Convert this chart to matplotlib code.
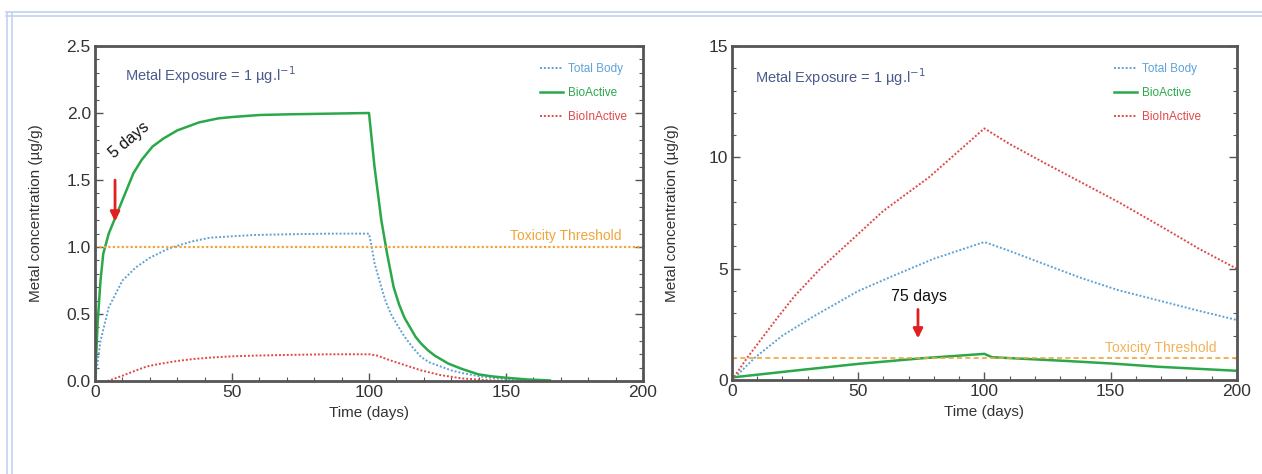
import matplotlib
matplotlib.use('Agg')
import matplotlib.pyplot as plt
from matplotlib.lines import Line2D
from matplotlib.ticker import MultipleLocator, FormatStrFormatter

plt.rcParams['font.family'] = ['Liberation Sans', 'DejaVu Sans']

# left panel (short exposure)
t_tb_l = [0, 2, 5, 10, 15, 20, 27, 35, 42, 50, 58, 70, 85, 100, 101, 102, 104.5, 106, 108, 110, 113, 116, 119, 122, 126, 130, 134, 142, 150, 158, 165]
tb_l = [0, 0.3, 0.55, 0.75, 0.85, 0.92, 0.99, 1.04, 1.07, 1.08, 1.09, 1.095, 1.1, 1.1, 1.0, 0.88, 0.7, 0.6, 0.5, 0.43, 0.33, 0.25, 0.18, 0.14, 0.11, 0.08, 0.06, 0.03, 0.015, 0.005, 0]
t_ba_l = [0, 1, 2, 3, 5, 7, 9, 12, 14, 17, 21, 25, 30, 38, 45, 50, 60, 70, 85, 100, 102, 104.5, 106.6, 109, 111, 113, 115, 117, 119, 121.5, 124, 126.5, 129, 134, 140, 145, 150, 158, 166]
ba_l = [0, 0.45, 0.75, 0.95, 1.1, 1.2, 1.3, 1.45, 1.55, 1.65, 1.75, 1.81, 1.87, 1.93, 1.96, 1.97, 1.985, 1.99, 1.995, 2.0, 1.6, 1.2, 0.95, 0.7, 0.57, 0.47, 0.4, 0.33, 0.28, 0.23, 0.19, 0.16, 0.13, 0.09, 0.05, 0.035, 0.025, 0.012, 0.005]
t_bi_l = [4.5, 10, 15, 19, 24, 30, 36, 42, 50, 58, 70, 85, 100, 103, 107, 113, 119, 126, 134, 142, 150]
bi_l = [0, 0.04, 0.08, 0.11, 0.13, 0.15, 0.165, 0.175, 0.185, 0.19, 0.195, 0.2, 0.2, 0.19, 0.16, 0.12, 0.08, 0.045, 0.02, 0.008, 0]

# right panel (long exposure)
t_tb_r = [0, 9, 20, 32, 50, 63, 80, 100, 110, 123, 138, 153, 170, 184, 200]
tb_r = [0, 1.0, 2.0, 2.84, 4.0, 4.64, 5.45, 6.2, 5.8, 5.24, 4.6, 4.04, 3.55, 3.14, 2.7]
t_ba_r = [0, 25, 50, 75, 100, 103, 131, 150, 169, 200]
ba_r = [0.12, 0.43, 0.73, 0.98, 1.18, 1.03, 0.87, 0.75, 0.6, 0.42]
t_bi_r = [0, 6, 10, 18, 25, 35, 47.5, 60, 78, 90, 100, 110, 123, 138, 153, 170, 185, 200]
bi_r = [0, 1.0, 1.6, 2.8, 3.8, 5.0, 6.3, 7.6, 9.1, 10.3, 11.3, 10.6, 9.8, 8.9, 8.0, 6.9, 5.9, 5.0]

threshold = 1.0

c_tb = '#5fa2d6'
c_ba = '#2aa84a'
c_bi = '#e04848'
c_th = '#f0a43c'
c_txt = '#4a5a8c'

fig = plt.figure(figsize=(12.62, 4.74), dpi=100)

# light blue page frame
for y in [0.974, 0.966]:
    fig.add_artist(Line2D([0.005, 1.0], [y, y], color='#c3d2ee', lw=1.2, transform=fig.transFigure))
for x in [0.0056, 0.0098]:
    fig.add_artist(Line2D([x, x], [0.0, 0.974], color='#c3d2ee', lw=1.2, transform=fig.transFigure))

ax1 = fig.add_axes([0.0753, 0.196, 0.4342, 0.707])
ax2 = fig.add_axes([0.580, 0.198, 0.400, 0.705])


def style(ax, ymax, ymaj, ymin):
    ax.set_xlim(0, 200)
    ax.set_ylim(0, ymax)
    ax.xaxis.set_major_locator(MultipleLocator(50))
    ax.xaxis.set_minor_locator(MultipleLocator(10))
    ax.yaxis.set_major_locator(MultipleLocator(ymaj))
    ax.yaxis.set_minor_locator(MultipleLocator(ymin))
    ax.tick_params(which='both', direction='in', right=True, top=False, colors='#555555',
                   labelcolor='#333333', labelsize=12.5, pad=3)
    ax.tick_params(which='major', length=6, width=1)
    ax.tick_params(which='minor', length=3, width=0.8)
    for s in ax.spines.values():
        s.set_color('#555555')
        s.set_linewidth(2)
    ax.set_xlabel('Time (days)', fontsize=11, color='#333333')
    ax.set_ylabel('Metal concentration (µg/g)', fontsize=11, color='#333333')


dot = dict(ls=(0, (1, 1)), lw=1.4)

style(ax1, 2.5, 0.5, 0.1)
ax1.yaxis.set_major_formatter(FormatStrFormatter('%.1f'))
ax1.plot(t_tb_l, tb_l, color=c_tb, label='Total Body', **dot)
ax1.plot(t_ba_l, ba_l, color=c_ba, ls='-', lw=1.8, label='BioActive')
ax1.plot(t_bi_l, bi_l, color=c_bi, label='BioInActive', **dot)
ax1.axhline(threshold, color=c_th, ls=(0, (1, 1)), lw=1.6)
ax1.text(192, 1.03, 'Toxicity Threshold', color=c_th, fontsize=10, ha='right', va='bottom')
ax1.text(11, 2.28, 'Metal Exposure = 1 µg.l$^{-1}$', color=c_txt, fontsize=10.5, va='center')
ax1.annotate('', xy=(7.3, 1.17), xytext=(7.3, 1.52),
             arrowprops=dict(arrowstyle='-|>', color='#e02020', lw=2, mutation_scale=14))
ax1.text(12.5, 1.8, '5 days', rotation=40, fontsize=11.5, ha='center', va='center', color='#111111')
leg1 = ax1.legend(loc='upper right', bbox_to_anchor=(0.99, 0.98), frameon=False, fontsize=8.5,
                  handlelength=2.0, labelspacing=1.0, handletextpad=0.4)
for txt, c in zip(leg1.get_texts(), [c_tb, c_ba, c_bi]):
    txt.set_color(c)

style(ax2, 15, 5, 1)
ax2.plot(t_tb_r, tb_r, color=c_tb, label='Total Body', **dot)
ax2.plot(t_ba_r, ba_r, color=c_ba, ls='-', lw=1.8, label='BioActive')
ax2.plot(t_bi_r, bi_r, color=c_bi, label='BioInActive', **dot)
ax2.axhline(threshold, color=c_th, ls='--', lw=1.2, dashes=(3, 2))
ax2.text(192, 1.15, 'Toxicity Threshold', color=c_th, fontsize=10, ha='right', va='bottom', alpha=0.85)
ax2.text(9, 13.6, 'Metal Exposure = 1 µg.l$^{-1}$', color=c_txt, fontsize=10.5, va='center')
ax2.annotate('', xy=(73.7, 1.75), xytext=(73.7, 3.3),
             arrowprops=dict(arrowstyle='-|>', color='#e02020', lw=2, mutation_scale=14))
ax2.text(74, 3.75, '75 days', fontsize=11.5, ha='center', va='center', color='#111111')
leg2 = ax2.legend(loc='upper right', bbox_to_anchor=(0.95, 0.98), frameon=False, fontsize=8.5,
                  handlelength=2.0, labelspacing=1.0, handletextpad=0.4)
for txt, c in zip(leg2.get_texts(), [c_tb, c_ba, c_bi]):
    txt.set_color(c)

ax1.yaxis.set_label_coords(-0.095, 0.5)
ax2.yaxis.set_label_coords(-0.105, 0.5)

fig.savefig('out.png', dpi=100)
